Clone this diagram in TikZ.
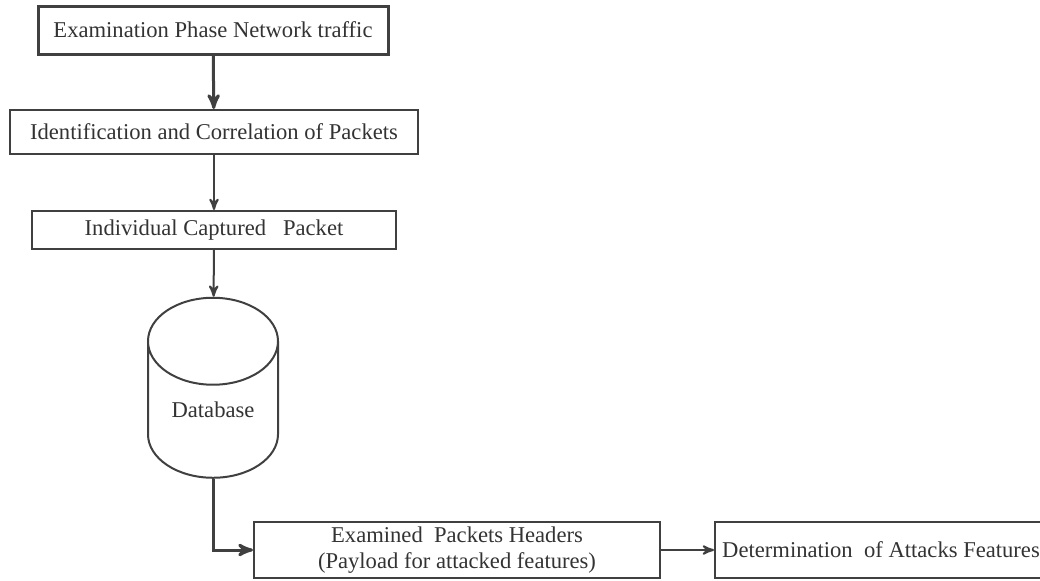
\documentclass[tikz,border=0pt]{standalone}
\usepackage{fontspec}
\setmainfont{Liberation Serif}
\usetikzlibrary{arrows,shapes.geometric}

\begin{document}
\begin{tikzpicture}[->,>=stealth',x=0.5pt,y=-0.5pt,
  line width=1pt,draw=black!75,
  main node/.style={rectangle,draw=black!75,text=black!80,
    font=\fontsize{11.3}{13}\selectfont,inner sep=0pt},
  db node/.style={cylinder,shape border rotate=90,draw=black!75,text=black!80,
    aspect=1.05,minimum width=65pt,minimum height=90pt,inner sep=0pt,
    font=\fontsize{11.3}{13}\selectfont}]
  \useasboundingbox (0,0) rectangle (1040,580);

  \node[main node,line width=1.5pt,minimum width=175pt,minimum height=24pt] (0) at (213,30) {Examination Phase Network traffic};
  \node[main node,minimum width=204pt,minimum height=22pt] (1) at (214,132) {Identification and Correlation of Packets};
  \node[main node,minimum width=182pt,minimum height=19pt] (2) at (214,230) {Individual Captured\ \ \ Packet};
  \node[db node] (3) at (213,410) {Database};
  \node[main node,align=center,minimum width=203pt,minimum height=28pt] (4) at (457,550) {Examined\ \ Packets Headers\\(Payload for attacked features)};
  \node[main node,anchor=west,minimum width=166pt,minimum height=28pt] (5) at (714,550) {Determination\ \ of Attacks Features};

  \path
  (0) edge [line width=1.5pt] (1)
  (1) edge (2)
  (2) edge (3)
  (4) edge (5);
  \draw[line width=1.5pt] (3.south) |- (4.west);
\end{tikzpicture}
\end{document}
